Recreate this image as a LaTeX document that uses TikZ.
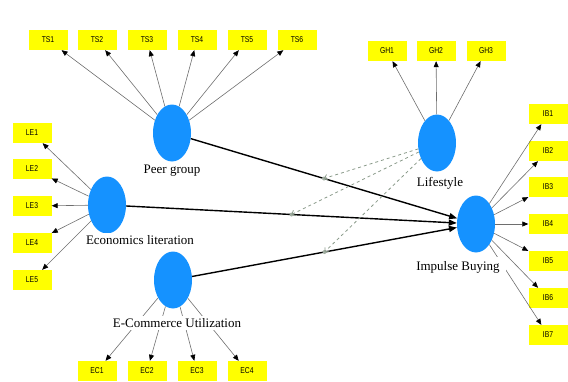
\documentclass[tikz,border=0pt]{standalone}
\usepackage{fontspec}
\setmainfont{Liberation Serif}
\newfontfamily\itemfont[FakeStretch=0.8]{Liberation Sans}
\usetikzlibrary{arrows.meta,shapes.geometric}
\definecolor{itemyellow}{HTML}{FFFF00}
\definecolor{latentblue}{HTML}{1592FF}
\definecolor{loadgray}{HTML}{6E6E6E}
\definecolor{modgray}{HTML}{8A9A8A}
\tikzset{
  latentnode/.style={ellipse,fill=latentblue,minimum width=38pt,minimum height=57pt,inner sep=0pt},
  itemnode/.style={fill=itemyellow,minimum width=39pt,minimum height=20pt,inner sep=0pt,font=\itemfont\fontsize{8.5}{9}\selectfont},
  namenode/.style={fill=white,inner sep=2pt,font=\fontsize{13}{15}\selectfont},
  loadarrow/.style={-{Triangle[length=6pt,width=5pt,color=black]},loadgray,line width=0.6pt},
  patharrow/.style={-{Triangle[length=8pt,width=6pt]},black,line width=1.4pt},
  modarrow/.style={-{Straight Barb[length=3pt,width=6pt]},modgray,dashed,line width=0.8pt},
  moddot/.style={circle,fill=modgray!80,minimum size=4pt,inner sep=0pt}
}
\begin{document}
\begin{tikzpicture}[x=1pt,y=-1pt]
\useasboundingbox (0,0) rectangle (568,381);
% latent variables
\node[latentnode] (peer) at (172,133) {};
\node[latentnode] (econ) at (107,205) {};
\node[latentnode] (ecom) at (173,280) {};
\node[latentnode] (life) at (437,143) {};
\node[latentnode] (impulse) at (476,224) {};
% indicators
\foreach \i/\x in {1/48,2/97,3/147,4/197,5/247,6/297}
  \node[itemnode] (TS\i) at (\x,40) {TS\i};
\foreach \i/\x in {1/387,2/436,3/486}
  \node[itemnode] (GH\i) at (\x,51) {GH\i};
\foreach \i/\y in {1/133,2/169,3/206,4/243,5/280}
  \node[itemnode] (LE\i) at (32,\y) {LE\i};
\foreach \i/\y in {1/114,2/151,3/187,4/224,5/261,6/298,7/335}
  \node[itemnode] (IB\i) at (548,\y) {IB\i};
\foreach \i/\x in {1/97,2/147,3/197,4/247}
  \node[itemnode] (EC\i) at (\x,371) {EC\i};
% loadings
\foreach \i in {1,...,6} \draw[loadarrow] (peer) -- (TS\i);
\foreach \i in {1,2,3} \draw[loadarrow] (life) -- (GH\i);
\foreach \i in {1,...,5} \draw[loadarrow] (econ) -- (LE\i);
\foreach \i in {1,...,7} \draw[loadarrow] (impulse) -- (IB\i);
\foreach \i in {1,...,4} \draw[loadarrow] (ecom) -- (EC\i);
% structural paths
\draw[patharrow] (peer) -- coordinate[pos=0.5] (mpeer) (impulse);
\draw[patharrow] (econ) -- coordinate[pos=0.5] (mecon) (impulse);
\draw[patharrow] (ecom) -- coordinate[pos=0.5] (mecom) (impulse);
% moderation
\node[moddot] (dpeer) at (mpeer) {};
\node[moddot] (decon) at (mecon) {};
\node[moddot] (decom) at (mecom) {};
\draw[modarrow] (life) -- (mpeer);
\draw[modarrow] (life) -- (mecon);
\draw[modarrow] (life) -- (mecom);
% names
\node[namenode] (peername) at (172,171) {Peer group};
\node[namenode] (econname) at (140,240) {Economics literation};
\node[namenode] (ecomname) at (177,323) {E-Commerce Utilization};
\node[namenode] (lifename) at (440,183) {Lifestyle};
\node[namenode,inner xsep=6pt,inner ysep=4pt] (impulsename) at (458,267) {Impulse Buying};
\end{tikzpicture}
\end{document}
